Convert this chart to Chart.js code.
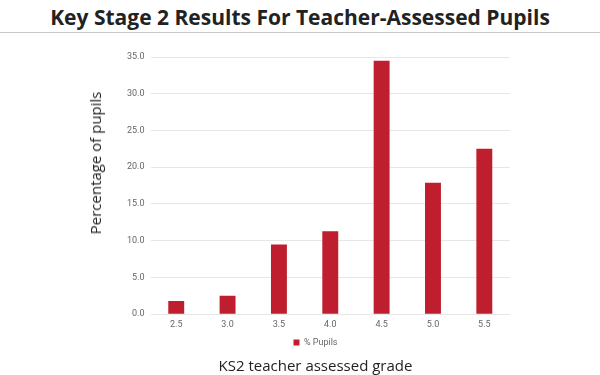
<!DOCTYPE html>
<html lang="en">
<head>
    <meta charset="UTF-8">
    <title>Key Stage 2 Results</title>
    <script src="https://cdn.jsdelivr.net/npm/chart.js"></script>
    <style>
        body { margin: 0; background: #fff; position: relative; }
        .title {
            height: 32px;
            border-bottom: 1px solid #c8c8c8;
            text-align: center;
            font-family: "Open Sans", sans-serif;
            font-weight: 700;
            font-size: 21px;
            line-height: 34px;
            color: #222;
        }
        .wrap { width: 600px; height: 342px; }
        /* y axis caption, sits a bit above the plot centre like the original */
        .ytitle {
            position: absolute;
            left: 95px; top: 163px;
            transform: translate(-50%, -50%) rotate(-90deg);
            white-space: nowrap;
            font-family: "Open Sans", sans-serif;
            font-size: 15px;
            color: #222;
        }
    </style>
</head>
<body>
    <div class="title">Key Stage 2 Results For Teacher-Assessed Pupils</div>
    <div class="wrap"><canvas id="ks2Chart"></canvas></div>
    <div class="ytitle">Percentage of pupils</div>
    <script>
        // data
        const grades = ['2.5', '3.0', '3.5', '4.0', '4.5', '5.0', '5.5'];
        const pupilsPct = [1.8, 2.5, 9.5, 11.3, 34.5, 17.9, 22.5];

        const ctx = document.getElementById('ks2Chart').getContext('2d');
        new Chart(ctx, {
            type: 'bar',
            data: {
                labels: grades,
                datasets: [{
                    label: '% Pupils',
                    data: pupilsPct,
                    backgroundColor: '#be1e2d',
                    borderWidth: 0
                }]
            },
            options: {
                responsive: true,
                maintainAspectRatio: false,
                animation: false,
                layout: { padding: { left: 121, right: 90, top: 24, bottom: 0 } },
                datasets: { bar: { categoryPercentage: 1, barPercentage: 0.31 } },
                plugins: {
                    legend: {
                        position: 'bottom',
                        labels: {
                            boxWidth: 6, boxHeight: 6,
                            font: { family: 'Roboto', size: 9 },
                            color: '#666',
                            padding: 3
                        }
                    },
                    // x axis caption drawn as a bottom title so it sits under the legend
                    title: {
                        display: true,
                        position: 'bottom',
                        text: 'KS2 teacher assessed grade',
                        font: { family: 'Open Sans', size: 15, weight: 'normal', lineHeight: 1 },
                        color: '#222',
                        padding: { top: 2, bottom: 1 }
                    },
                    tooltip: { enabled: false }
                },
                scales: {
                    x: {
                        grid: { display: false, drawTicks: false, tickLength: 0 },
                        border: { display: false },
                        ticks: { font: { family: 'Roboto', size: 9 }, color: '#666', padding: 5 }
                    },
                    y: {
                        min: 0, max: 35,
                        ticks: {
                            stepSize: 5,
                            font: { family: 'Roboto', size: 9 },
                            color: '#666',
                            padding: 6,
                            callback: v => v.toFixed(1)
                        },
                        grid: { color: '#e6e6e6', lineWidth: 1, drawTicks: false },
                        border: { display: false }
                    }
                }
            }
        });
    </script>
</body>
</html>
